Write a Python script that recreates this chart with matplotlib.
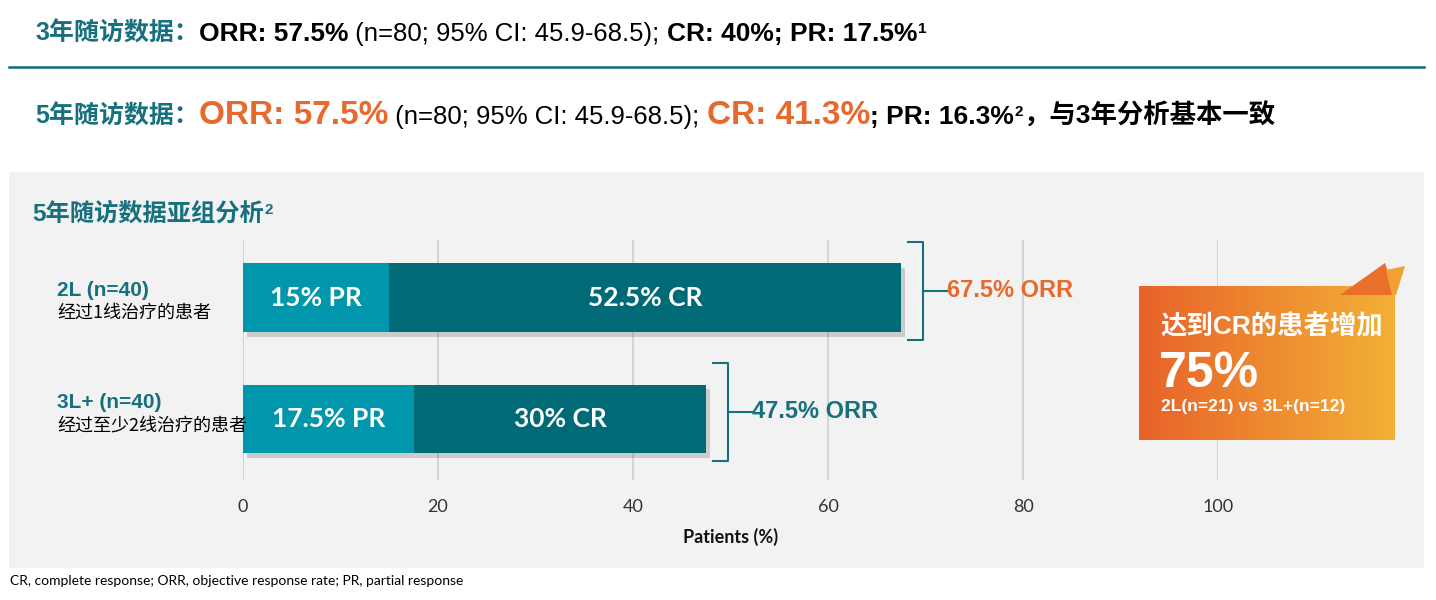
import numpy as np
import matplotlib
matplotlib.use('Agg')
import matplotlib.pyplot as plt
from matplotlib import patheffects
from matplotlib.patches import Rectangle, Polygon

# data
groups = ['2L (n=40)', '3L+ (n=40)']
subtitles = ['经过1线治疗的患者', '经过至少2线治疗的患者']
pr = [15, 17.5]
cr = [52.5, 30]
orr = [67.5, 47.5]
xticks = [0, 20, 40, 60, 80, 100]

TEAL = '#17707d'
PR_C = '#0097ac'
CR_C = '#006a77'
ORANGE = '#e8692c'
LAT = ['Liberation Sans', 'Noto Sans CJK SC', 'DejaVu Sans']
CJK = ['Noto Sans CJK SC', 'DejaVu Sans']

fig = plt.figure(figsize=(14.36, 6), dpi=100)
fig.patch.set_facecolor('white')

# background layer (pixel coords)
bg = fig.add_axes([0, 0, 1, 1], zorder=0)
bg.set_xlim(0, 1436)
bg.set_ylim(600, 0)
bg.axis('off')
bg.add_patch(Rectangle((9, 172), 1415, 396, color='#f2f2f2', lw=0))
bg.plot([9, 1424], [67, 67], color='#0e6b78', lw=1.8)

# chart axes
ax = fig.add_axes([243 / 1436, 120 / 600, 975 / 1436, 240 / 600], zorder=1)
ax.patch.set_alpha(0)
ax.set_xlim(0, 100)
ax.set_ylim(1.504, -0.479)
for s in ax.spines.values():
    s.set_visible(False)
ax.set_xticks(xticks)
ax.set_yticks([])
ax.tick_params(axis='x', length=0, pad=14, labelsize=13, labelcolor='#333333')
for lab in ax.get_xticklabels():
    lab.set_family(['Lato', 'DejaVu Sans'])
ax.xaxis.grid(True, color='#d4d4d4', lw=1.5)
ax.set_axisbelow(True)
ax.set_xlabel('Patients (%)', fontsize=13, fontweight='bold', family=['Lato', 'DejaVu Sans'],
              labelpad=9, color='#111111')

ypos = np.arange(len(groups))
shadow = [patheffects.withSimplePatchShadow(offset=(3, -3), alpha=0.22, shadow_rgbFace='#444444'),
          patheffects.Normal()]
b1 = ax.barh(ypos, pr, height=0.57, color=PR_C, zorder=3)
b2 = ax.barh(ypos, cr, left=pr, height=0.57, color=CR_C, zorder=3)
for b in list(b1) + list(b2):
    b.set_path_effects(shadow)

for i in range(len(groups)):
    ax.text(pr[i] / 2, ypos[i], f'{pr[i]:g}% PR', ha='center', va='center', color='white',
            fontsize=19, fontweight='bold', family=['Lato', 'DejaVu Sans'], zorder=4)
    ax.text(pr[i] + cr[i] / 2, ypos[i], f'{cr[i]:g}% CR', ha='center', va='center', color='white',
            fontsize=19, fontweight='bold', family=['Lato', 'DejaVu Sans'], zorder=4)
    # bracket
    bx = orr[i] + 2.2
    top, bot, mid = ypos[i] - 0.46, ypos[i] + 0.35, ypos[i] - 0.06
    ax.plot([bx - 1.5, bx, bx, bx - 1.5], [top, top, bot, bot], color=TEAL, lw=1.5,
            clip_on=False, zorder=4)
    ax.plot([bx, bx + 2.5], [mid, mid], color=TEAL, lw=1.5, clip_on=False, zorder=4)
    ax.text(bx + 2.5, mid, f'{orr[i]:g}% ORR', ha='left', va='center',
            color=ORANGE if i == 0 else TEAL, fontsize=17, fontweight='bold',
            family=LAT, zorder=5, clip_on=False)

# overlay layer
ov = fig.add_axes([0, 0, 1, 1], zorder=2)
ov.set_xlim(0, 1436)
ov.set_ylim(600, 0)
ov.axis('off')
ov.patch.set_alpha(0)
renderer = fig.canvas.get_renderer()


def chain(x, y, parts):
    for txt, kw in parts:
        kw = dict(kw)
        dy = kw.pop('dy', 0)
        gap = kw.pop('gap', 0)
        x += gap
        t = ov.text(x, y + dy, txt, ha='left', va='baseline', **kw)
        x += t.get_window_extent(renderer).width
    return x


B = dict(family=LAT, fontweight='bold', color='black', fontsize=19)
N = dict(family=LAT, color='black', fontsize=18.5)
chain(35, 41, [
    ('3年随访数据：', dict(B, color=TEAL, fontsize=18)),
    ('ORR: 57.5%', B),
    (' (n=80; 95% CI: 45.9-68.5); ', N),
    ('CR: 40%; PR: 17.5%', B),
    ('1', dict(B, fontsize=11, dy=-8, gap=1)),
])
chain(35, 124, [
    ('5年随访数据：', dict(B, color=TEAL, fontsize=18)),
    ('ORR: 57.5%', dict(B, color=ORANGE, fontsize=24)),
    (' (n=80; 95% CI: 45.9-68.5); ', N),
    ('CR: 41.3%', dict(B, color=ORANGE, fontsize=24)),
    ('; PR: 16.3%', B),
    ('2', dict(B, fontsize=11, dy=-8, gap=1)),
    ('，与3年分析基本一致', B),
])
chain(32, 221, [
    ('5年随访数据亚组分析', dict(B, color=TEAL, fontsize=17.5)),
    ('2', dict(B, color=TEAL, fontsize=11, dy=-7, gap=1)),
])

label_y = [290, 403]
for i in range(len(groups)):
    ov.text(57, label_y[i], groups[i], ha='left', va='center', color=TEAL,
            fontsize=15, fontweight='bold', family=LAT)
    ov.text(57, label_y[i] + 23, subtitles[i], ha='left', va='center', color='black',
            fontsize=13, family=CJK)

# callout box with gradient
grad = np.linspace(0, 1, 256)[None, :]
cmap = matplotlib.colors.LinearSegmentedColormap.from_list('og', ['#e8622a', '#ee8a30', '#f2b036'])
ov.imshow(grad, cmap=cmap, extent=(1139, 1395, 440, 286), aspect='auto', zorder=3)
flag = Polygon([(1340, 295), (1385, 263), (1396, 295)], closed=True, color='#ea6f2b', lw=0, zorder=4)
ov.add_patch(flag)
flag2 = Polygon([(1386, 270), (1405, 266), (1396, 295), (1392, 295)], closed=True,
                color='#f1a133', lw=0, zorder=4)
ov.add_patch(flag2)
ov.set_xlim(0, 1436)
ov.set_ylim(600, 0)
ov.text(1160, 327, '达到CR的患者增加', ha='left', va='center', color='white', fontsize=19,
        fontweight='bold', family=LAT, zorder=5)
ov.text(1159, 387, '75%', ha='left', va='baseline', color='white', fontsize=36,
        fontweight='bold', family=LAT, zorder=5)
ov.text(1161, 406, '2L(n=21) vs 3L+(n=12)', ha='left', va='center', color='white', fontsize=12.5,
        fontweight='bold', family=LAT, zorder=5)

ov.text(10, 581, 'CR, complete response; ORR, objective response rate; PR, partial response',
        ha='left', va='center', fontsize=10, family=['Lato', 'DejaVu Sans'], color='black')

fig.savefig('out.png', dpi=100)
